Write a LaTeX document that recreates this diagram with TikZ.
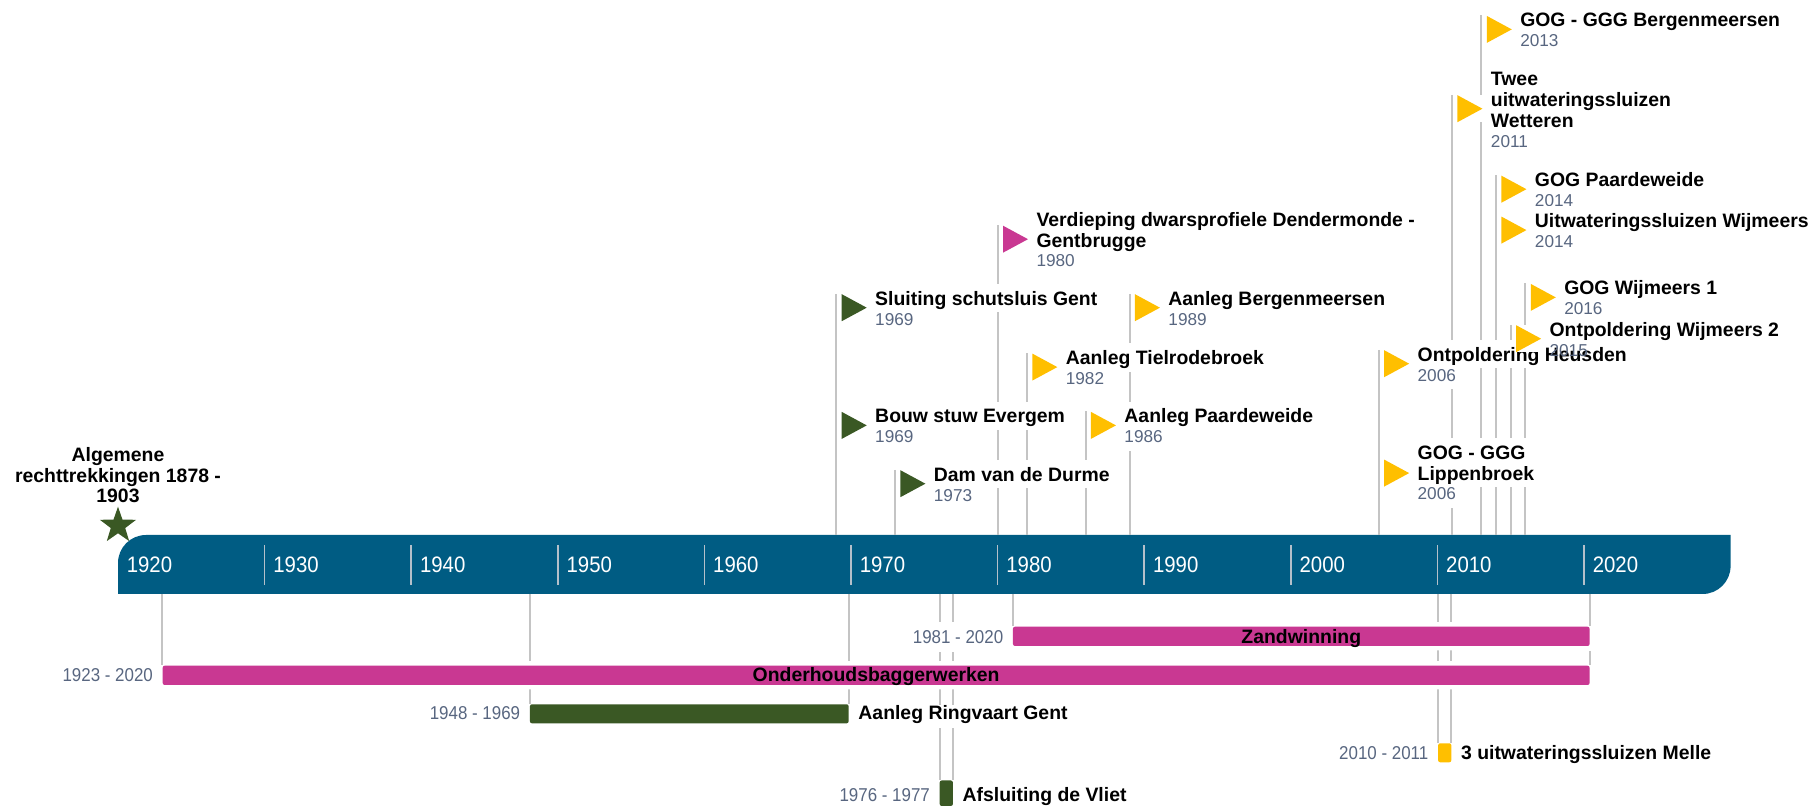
\documentclass[tikz,border=0pt]{standalone}
\usepackage{fontspec}
\setmainfont{Liberation Sans}
\newfontfamily\narrowsans[FakeStretch=0.91]{Liberation Sans}
\usetikzlibrary{shapes.geometric,fit}

\definecolor{axisblue}{RGB}{0,92,131}
\definecolor{axistick}{RGB}{180,192,202}
\definecolor{stemgray}{RGB}{196,196,196}
\definecolor{datetext}{RGB}{88,102,128}
\definecolor{flaggreen}{RGB}{58,88,36}
\definecolor{flagpink}{RGB}{201,56,146}
\definecolor{flagyellow}{RGB}{255,191,0}

\tikzset{
  stemline/.style={draw=stemgray, line width=1pt},
  axtick/.style={draw=axistick, line width=0.8pt},
  ticklbl/.style={anchor=base west, inner sep=0pt, text=white, font=\narrowsans\fontsize{11.2}{13}\selectfont},
  flagmark/.style={anchor=north west, fill=white, inner sep=0pt, minimum width=12.5pt, minimum height=13.5pt,
    path picture={\fill[#1] (path picture bounding box.north west) -- (path picture bounding box.east) -- (path picture bounding box.south west) -- cycle;}},
  ttl/.style={anchor=base west, fill=white, inner xsep=2pt, inner ysep=0pt, text height=10.6pt, text depth=3.5pt, font=\bfseries\fontsize{9.7}{11}\selectfont},
  ttlc/.style={anchor=base, inner sep=0pt, font=\bfseries\fontsize{9.7}{11}\selectfont},
  yrs/.style={anchor=base west, fill=white, inner xsep=2pt, inner ysep=0pt, text height=8pt, text depth=4pt, text=datetext, font=\fontsize{8.6}{10}\selectfont},
  rangebar/.style={fill=#1, inner sep=0pt, rounded corners=1pt},
  halo/.style={preaction={draw=white, line width=4.5pt}},
  bartxt/.style={anchor=base, inner sep=0pt, font=\bfseries\fontsize{9.7}{11}\selectfont},
  sidetxt/.style={anchor=base west, fill=white, inner xsep=2pt, inner ysep=0pt, text height=7.5pt, text depth=4.2pt, font=\bfseries\fontsize{9.7}{11}\selectfont},
  rngtxt/.style={anchor=base east, fill=white, inner xsep=2pt, inner ysep=0pt, text height=10.8pt, text depth=4.2pt, text=datetext, font=\narrowsans\fontsize{9.3}{11}\selectfont}
}

\begin{document}
\begin{tikzpicture}[x=7.33pt,y=-0.5pt]
	\useasboundingbox (11.951,0) rectangle (135.69,806);

	\fill[axisblue] (20,594) -- (20,563) arc[start angle=180,end angle=90,radius=14pt] -- (130,535) -- (130,566) arc[start angle=0,end angle=-90,radius=14pt] -- cycle;
	\coordinate (axtop) at (20,535);
	\coordinate (axbot) at (20,594);
	\foreach \d in {1930,1940,...,2020}
		\draw[axtick] (\d-1900,545) -- (\d-1900,585);
	\foreach \d in {1920,1930,...,2020}
		\node[ticklbl] (y\d) at ([xshift=4.2pt]\d-1900,572.7) {\d};

	\coordinate (s1) at (69,293.8);
	\coordinate (s2) at (69,411.5);
	\coordinate (s3) at (73,469.8);
	\coordinate (s4) at (80,225.3);
	\coordinate (s5) at (82,353.2);
	\coordinate (s6) at (86,411.5);
	\coordinate (s7) at (89,293.8);
	\coordinate (s8) at (106,349.8);
	\coordinate (s9) at (106,459.2);
	\coordinate (s10) at (111,94.8);
	\coordinate (s11) at (113,15.5);
	\coordinate (s12) at (114,175.3);
	\coordinate (s13) at (114,216.2);
	\coordinate (s14) at (116,283.5);
	\coordinate (s15) at (115,324.8);
	\foreach \s in {1,...,15}
		\draw[stemline] (s\s) -- (s\s |- axtop);

	\coordinate (zw0) at (81.05,626.7);
	\coordinate (zw1) at (120.38,646);
	\coordinate (on0) at (23.05,665.7);
	\coordinate (on1) at (120.38,685);
	\coordinate (rg0) at (48.1,704.3);
	\coordinate (rg1) at (69.84,723.3);
	\coordinate (ml0) at (110.05,743.3);
	\coordinate (ml1) at (110.95,762.3);
	\coordinate (vl0) at (76.05,780.5);
	\coordinate (vl1) at (76.95,806);

	\draw[stemline] (rg0 |- axbot) -- (rg0);
	\draw[stemline] (rg1 |- axbot) -- (rg1 |- rg0);
	\draw[stemline] (ml0 |- axbot) -- (ml0);
	\draw[stemline] (ml1 |- axbot) -- (ml1 |- ml0);
	\draw[stemline] (vl0 |- axbot) -- (vl0);
	\draw[stemline] (vl1 |- axbot) -- (vl1 |- vl0);

	\node[rangebar=flagpink, halo, fit=(zw0)(zw1)] (zw) {};
	\node[rangebar=flagpink, halo, fit=(on0)(on1)] (on) {};
	\node[rangebar=flaggreen, fit=(rg0)(rg1)] (rg) {};
	\node[rangebar=flagyellow, fit=(ml0)(ml1)] (ml) {};
	\node[rangebar=flaggreen, fit=(vl0)(vl1)] (vl) {};

	\draw[stemline] (zw.north west |- axbot) -- (zw.north west);
	\draw[stemline] (zw.north east |- axbot) -- (zw.north east);
	\draw[stemline] (on.north west |- axbot) -- (on.north west);
	\draw[stemline] ([yshift=-2.25pt]zw.south east) -- (on.north east);

	\node[bartxt] (zwt) at ([yshift=-3.5pt]zw.center) {Zandwinning};
	\node[rngtxt] (zwr) at ([xshift=-2.5pt,yshift=-3.5pt]zw.west) {1981 - 2020};
	\node[bartxt] (ont) at ([yshift=-3.2pt]on.center) {Onderhoudsbaggerwerken};
	\node[rngtxt] (onr) at ([xshift=-2.5pt,yshift=-3.2pt]on.west) {1923 - 2020};
	\node[rngtxt] (rgr) at ([xshift=-2.5pt,yshift=-3.1pt]rg.west) {1948 - 1969};
	\node[sidetxt] (rgt) at ([xshift=2.5pt,yshift=-3.1pt]rg.east) {Aanleg Ringvaart Gent};
	\node[rngtxt] (mlr) at ([xshift=-2.5pt,yshift=-3.6pt]ml.west) {2010 - 2011};
	\node[sidetxt] (mlt) at ([xshift=2.5pt,yshift=-3.6pt]ml.east) {3 uitwateringssluizen Melle};
	\node[rngtxt] (vlr) at ([xshift=-2.5pt,yshift=-4.2pt]vl.west) {1976 - 1977};
	\node[sidetxt] (vlt) at ([xshift=2.5pt,yshift=-4.2pt]vl.east) {Afsluiting de Vliet};

	\node[yrs] (d1) at ([xshift=17.25pt]69,325.1) {1969};
	\node[ttl] (t1) at ([xshift=17.25pt]69,305.3) {Sluiting schutsluis Gent};
	\node[flagmark=flaggreen] (f1) at ([xshift=2.5pt]s1) {};

	\node[yrs] (d2) at ([xshift=17.25pt]69,442.8) {1969};
	\node[ttl] (t2) at ([xshift=17.25pt]69,423) {Bouw stuw Evergem};
	\node[flagmark=flaggreen] (f2) at ([xshift=2.5pt]s2) {};

	\node[yrs] (d3) at ([xshift=17.25pt]73,501.1) {1973};
	\node[ttl] (t3) at ([xshift=17.25pt]73,481.3) {Dam van de Durme};
	\node[flagmark=flaggreen] (f3) at ([xshift=2.5pt]s3) {};

	\node[yrs] (d4) at ([xshift=17.25pt]80,267) {1980};
	\node[ttl] (t4b) at ([xshift=17.25pt]80,247.5) {Gentbrugge};
	\node[ttl] (t4a) at ([xshift=17.25pt]80,226.2) {Verdieping dwarsprofiele Dendermonde -};
	\node[flagmark=flagpink] (f4) at ([xshift=2.5pt]s4) {};

	\node[yrs] (d5) at ([xshift=17.25pt]82,384.5) {1982};
	\node[ttl] (t5) at ([xshift=17.25pt]82,364.7) {Aanleg Tielrodebroek};
	\node[flagmark=flagyellow] (f5) at ([xshift=2.5pt]s5) {};

	\node[yrs] (d6) at ([xshift=17.25pt]86,442.8) {1986};
	\node[ttl] (t6) at ([xshift=17.25pt]86,423) {Aanleg Paardeweide};
	\node[flagmark=flagyellow] (f6) at ([xshift=2.5pt]s6) {};

	\node[yrs] (d7) at ([xshift=17.25pt]89,325.1) {1989};
	\node[ttl] (t7) at ([xshift=17.25pt]89,305.3) {Aanleg Bergenmeersen};
	\node[flagmark=flagyellow] (f7) at ([xshift=2.5pt]s7) {};

	\node[yrs] (d8) at ([xshift=17.25pt]106,381.1) {2006};
	\node[ttl] (t8) at ([xshift=17.25pt]106,361.3) {Ontpoldering Heusden};
	\node[flagmark=flagyellow] (f8) at ([xshift=2.5pt]s8) {};

	\node[yrs] (d9) at ([xshift=17.25pt]106,500) {2006};
	\node[ttl] (t9b) at ([xshift=17.25pt]106,480.2) {Lippenbroek};
	\node[ttl] (t9a) at ([xshift=17.25pt]106,459.3) {GOG - GGG};
	\node[flagmark=flagyellow] (f9) at ([xshift=2.5pt]s9) {};

	\node[yrs] (d10) at ([xshift=17.25pt]111,147.5) {2011};
	\node[ttl] (t10c) at ([xshift=17.25pt]111,127.8) {Wetteren};
	\node[ttl] (t10b) at ([xshift=17.25pt]111,106.5) {uitwateringssluizen};
	\node[ttl] (t10a) at ([xshift=17.25pt]111,85.2) {Twee};
	\node[flagmark=flagyellow] (f10) at ([xshift=2.5pt]s10) {};

	\node[yrs] (d11) at ([xshift=17.25pt]113,46.8) {2013};
	\node[ttl] (t11) at ([xshift=17.25pt]113,27) {GOG - GGG Bergenmeersen};
	\node[flagmark=flagyellow] (f11) at ([xshift=2.5pt]s11) {};

	\node[yrs] (d12) at ([xshift=17.25pt]114,206.6) {2014};
	\node[ttl] (t12) at ([xshift=17.25pt]114,186.8) {GOG Paardeweide};
	\node[flagmark=flagyellow] (f12) at ([xshift=2.5pt]s12) {};

	\node[yrs] (d13) at ([xshift=17.25pt]114,247.5) {2014};
	\node[ttl] (t13) at ([xshift=17.25pt]114,227.7) {Uitwateringssluizen Wijmeers};
	\node[flagmark=flagyellow] (f13) at ([xshift=2.5pt]s13) {};

	\node[yrs] (d14) at ([xshift=17.25pt]116,314.8) {2016};
	\node[ttl] (t14) at ([xshift=17.25pt]116,295) {GOG Wijmeers 1};
	\node[flagmark=flagyellow] (f14) at ([xshift=2.5pt]s14) {};

	\node[yrs, fill=none] (d15) at ([xshift=17.25pt]115,356.1) {2015};
	\node[ttl] (t15) at ([xshift=17.25pt]115,336.3) {Ontpoldering Wijmeers 2};
	\node[flagmark=flagyellow] (f15) at ([xshift=2.5pt]s15) {};

	\node[star, star points=5, star point ratio=2.5, fill=flaggreen, inner sep=0pt, minimum size=19pt] (st) at (20,525.7) {};
	\node[ttlc] (a1) at (20,461.5) {Algemene};
	\node[ttlc] (a2) at (20,482.5) {rechttrekkingen 1878 -};
	\node[ttlc] (a3) at (20,503) {1903};
\end{tikzpicture}
\end{document}
